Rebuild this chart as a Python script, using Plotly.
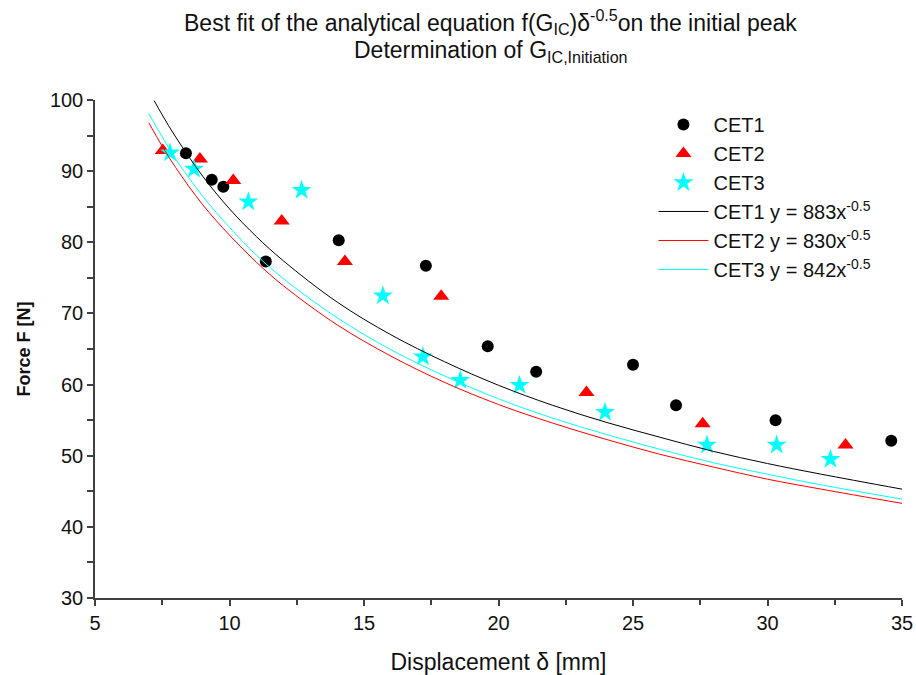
import plotly.graph_objects as go

# ---- data ----
cet1_x = [8.38, 9.34, 9.77, 11.35, 14.06, 17.3, 19.6, 21.4, 25.0, 26.6, 30.3, 34.6]
cet1_y = [92.5, 88.8, 87.8, 77.3, 80.3, 76.7, 65.4, 61.8, 62.8, 57.1, 55.0, 52.1]

cet2_x = [7.52, 8.90, 10.14, 11.94, 14.29, 17.87, 23.27, 27.59, 32.90]
cet2_y = [92.9, 91.7, 88.7, 83.0, 77.3, 72.4, 58.9, 54.5, 51.5]

cet3_x = [7.79, 8.68, 10.70, 12.68, 15.70, 17.19, 18.58, 20.78, 23.96, 27.75, 30.34, 32.34]
cet3_y = [92.6, 90.3, 85.7, 87.3, 72.5, 63.9, 60.6, 59.9, 56.1, 51.5, 51.5, 49.5]

# fitted curves, values
fit1_x = [7.2, 7.5, 8, 9, 10, 11, 12, 14, 16, 18, 20, 22, 24, 26, 28, 30, 32, 35]
fit1_y = [99.9, 97.9, 94.8, 89.3, 84.7, 80.8, 77.4, 71.6, 67.0, 63.2, 59.9, 57.1,
          54.7, 52.6, 50.6, 48.9, 47.4, 45.3]
fit2_x = [7.0, 7.5, 8, 9, 10, 11, 12, 14, 16, 18, 20, 22, 24, 26, 28, 30, 32, 35]
fit2_y = [96.8, 93.5, 90.5, 85.3, 81.0, 77.2, 73.9, 68.4, 64.0, 60.3, 57.2, 54.6,
          52.3, 50.2, 48.4, 46.7, 45.3, 43.3]
fit3_x = [7.0, 7.5, 8, 9, 10, 11, 12, 14, 16, 18, 20, 22, 24, 26, 28, 30, 32, 35]
fit3_y = [98.1, 94.8, 91.7, 86.5, 82.1, 78.2, 74.9, 69.4, 64.9, 61.2, 58.0, 55.3,
          53.0, 50.9, 49.0, 47.4, 45.9, 43.9]

names_pts = ["CET1", "CET2", "CET3"]
names_fit = ["CET1 y = 883x<sup>-0.5</sup>", "CET2 y = 830x<sup>-0.5</sup>",
             "CET3 y = 842x<sup>-0.5</sup>"]

title1 = "Best fit of the analytical equation f(G<sub>IC</sub>)δ<sup>-0.5</sup>on the initial peak"
title2 = "Determination of G<sub>IC,Initiation</sub>"
x_title = "Displacement δ [mm]"
y_title = "<b>Force F [N]</b>"

FONT = "Liberation Sans, Arial, sans-serif"
TXT = "#111111"
AX = "#404040"
BLACK = "#000000"
RED = "#ff0000"
CYAN = "#00ffff"

fig = go.Figure()
fig.add_trace(go.Scatter(x=cet1_x, y=cet1_y, mode="markers", name=names_pts[0],
                         marker=dict(symbol="circle", size=12, color=BLACK)))
fig.add_trace(go.Scatter(x=cet2_x, y=cet2_y, mode="markers", name=names_pts[1],
                         marker=dict(symbol="triangle-up", size=14, color=RED)))
fig.add_trace(go.Scatter(x=cet3_x, y=cet3_y, mode="markers", name=names_pts[2],
                         marker=dict(symbol="star", size=15, color=CYAN)))
fig.add_trace(go.Scatter(x=fit1_x, y=fit1_y, mode="lines", name=names_fit[0],
                         line=dict(color=BLACK, width=1, shape="spline")))
fig.add_trace(go.Scatter(x=fit2_x, y=fit2_y, mode="lines", name=names_fit[1],
                         line=dict(color=RED, width=1, shape="spline")))
fig.add_trace(go.Scatter(x=fit3_x, y=fit3_y, mode="lines", name=names_fit[2],
                         line=dict(color=CYAN, width=1, shape="spline")))

fig.add_annotation(text=title1, xref="paper", yref="paper", x=0.4907, y=1.156,
                   xanchor="center", yanchor="middle", showarrow=False,
                   font=dict(family=FONT, size=23, color=TXT))
fig.add_annotation(text=title2, xref="paper", yref="paper", x=0.4907, y=1.0964,
                   xanchor="center", yanchor="middle", showarrow=False,
                   font=dict(family=FONT, size=23, color=TXT))

axis_common = dict(showline=True, linecolor=AX, linewidth=1.5,
                   showgrid=False, zeroline=False, ticks="outside",
                   tickcolor=AX, tickwidth=1.5, ticklabeloverflow="allow",
                   tickfont=dict(family=FONT, size=20, color=TXT))

fig.update_xaxes(range=[5, 35], tick0=5, dtick=5, ticklen=6,
                 minor=dict(dtick=2.5, ticks="outside", ticklen=5, tickcolor=AX, tickwidth=1.5),
                 title=dict(text=x_title, font=dict(family=FONT, size=23, color=TXT), standoff=21),
                 **axis_common)
fig.update_yaxes(range=[30, 100], tick0=30, dtick=10, ticklen=6,
                 minor=dict(dtick=5, ticks="outside", ticklen=6, tickcolor=AX, tickwidth=1.5),
                 title=dict(text=y_title, font=dict(family=FONT, size=18, color=TXT), standoff=15),
                 **axis_common)

fig.update_layout(
    width=916, height=675,
    margin=dict(l=95, r=14, t=100, b=77, autoexpand=False),
    plot_bgcolor="white", paper_bgcolor="white",
    font=dict(family=FONT, color=TXT),
    showlegend=True,
    legend=dict(x=0.692, y=0.99, xanchor="left", yanchor="top",
                bgcolor="rgba(0,0,0,0)", font=dict(family=FONT, size=20, color=TXT),
                itemwidth=50, tracegroupgap=0),
)

# remove the default 8px page margin so the figure fills the 916x675 window exactly
fig.write_html("out.html",
               config={"displayModeBar": False},
               post_script="document.body.style.margin='0px'; document.body.style.overflow='hidden';")
